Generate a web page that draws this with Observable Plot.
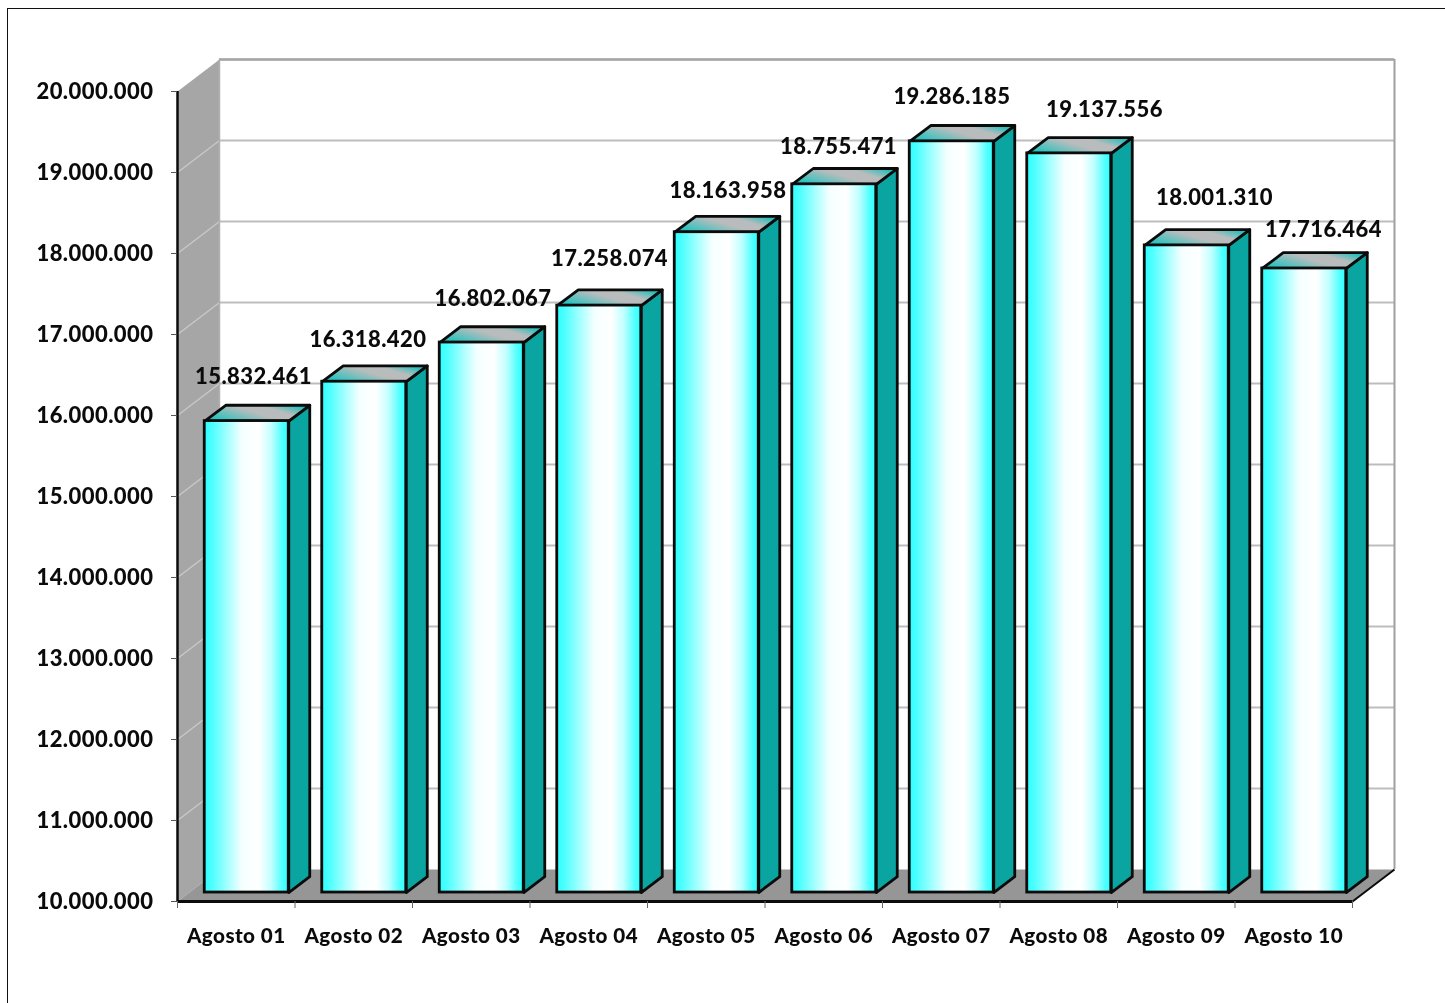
<!DOCTYPE html>
<html>
<head>
<meta charset="utf-8">
<script src="https://cdn.jsdelivr.net/npm/d3@7"></script>
<script src="https://cdn.jsdelivr.net/npm/@observablehq/plot@0.6"></script>
<style>
html,body{margin:0;padding:0;background:#fff;overflow:hidden}
#page{position:absolute;left:0;top:0;width:1445px;height:1003px}
#edge{position:absolute;left:7px;top:8px;right:0;bottom:0;border-left:1.5px solid #111;border-top:1.5px solid #111;pointer-events:none}
svg{filter:blur(0.4px)}
svg text{font-weight:900;fill:#0b0b0b;letter-spacing:0.45px}
</style>
</head>
<body>
<div id="page"><div id="edge"></div></div>
<script>
const categories = ["Agosto 01","Agosto 02","Agosto 03","Agosto 04","Agosto 05","Agosto 06","Agosto 07","Agosto 08","Agosto 09","Agosto 10"];
const values = [15832461,16318420,16802067,17258074,18163958,18755471,19286185,19137556,18001310,17716464];
const yTicks = [10000000,11000000,12000000,13000000,14000000,15000000,16000000,17000000,18000000,19000000,20000000];

// Label nudges, in category units and in value units
const labelShiftX = [0.147,0.121,0.185,0.177,0.185,0.126,0.091,0.389,0.326,0.253];
const labelShiftY = [645000,615000,635000,670000,610000,555000,645000,630000,685000,580000];

// The oblique projection, expressed in scale units
const Y0 = 10000000, Y1 = 20000000, N = categories.length;
const wallX = 0.3574, wallY = 395000;      // full depth of the chart box
const barOffX = 0.0894, barOffY = 98800;   // bars stand part-way into the box
const barDepthX = 0.1787, barDepthY = 195000;
const barW = 0.7149;

const fmt = d3.formatLocale({decimal:",",thousands:".",grouping:[3],currency:["",""]}).format(",");

const poly = (name, pts) => pts.map(([x,y]) => ({name,x,y}));
const left = i => i + 0.5 - barW/2 + barOffX;
const right = i => left(i) + barW;
const base = Y0 + barOffY + 12000;
const top_ = v => v + barOffY;

const sides = values.flatMap((v,i) => poly("s"+i,[
  [right(i),base],[right(i)+barDepthX,base+barDepthY],
  [right(i)+barDepthX,top_(v)+barDepthY],[right(i),top_(v)]]));
const tops = values.flatMap((v,i) => poly("t"+i,[
  [left(i),top_(v)],[right(i),top_(v)],
  [right(i)+barDepthX,top_(v)+barDepthY],[left(i)+barDepthX,top_(v)+barDepthY]]));
const closedLine = (data, o) => Plot.line(data,{x:"x",y:"y",z:"name",curve:"linear-closed",...o});

const defs = () => {
  const d = d3.create("svg:defs");
  const grad = (id, attrs, stops) => {
    const g = d.append("linearGradient").attr("id",id);
    for (const k in attrs) g.attr(k,attrs[k]);
    stops.forEach(([o,c]) => g.append("stop").attr("offset",o).attr("stop-color",c));
  };
  grad("frontFace",{x1:0,x2:1,y1:0,y2:0},[[0,"#2bffff"],[0.1,"#50ffff"],[0.3,"#b0ffff"],[0.45,"#f5ffff"],[0.65,"#ffffff"],[0.8,"#c0ffff"],[0.93,"#50ffff"],[1,"#2bffff"]]);
  grad("topFace",{x1:0,x2:1,y1:0.75,y2:0.25},[[0,"#1cc4c0"],[0.5,"#b9bcbc"],[0.72,"#b8bcbc"],[1,"#1cc0bc"]]);
  return d.node();
};

const chart = Plot.plot({
  width:1445, height:1003,
  marginLeft:177, marginRight:51, marginTop:59, marginBottom:102,
  style:{fontFamily:"Lato, sans-serif",background:"transparent"},
  x:{type:"linear",domain:[0,N+wallX],axis:null},
  y:{type:"linear",domain:[Y0,Y1+wallY],axis:null},
  marks:[
    defs,
    // left wall and floor
    closedLine(poly("wall",[[0,Y0],[wallX,Y0+wallY],[wallX,Y1+wallY],[0,Y1]]),{fill:"#a6a6a6",stroke:"none"}),
    closedLine(poly("floor",[[0,Y0],[N,Y0],[N+wallX,Y0+wallY],[wallX,Y0+wallY]]),{fill:"#969696",stroke:"none"}),
    // gridlines on the left wall and the back wall
    Plot.link(yTicks.slice(1,-1),{x1:0,x2:wallX,y1:d=>d,y2:d=>d+wallY,stroke:"#c8c8c8",strokeWidth:1.5}),
    Plot.link(yTicks.slice(1),{x1:wallX,x2:N+wallX,y1:d=>d+wallY,y2:d=>d+wallY,stroke:"#bdbdbd",strokeWidth:2}),
    Plot.ruleX([wallX],{y1:Y0+wallY,y2:Y1+wallY,stroke:"#b0b0b0",strokeWidth:1.5}),
    Plot.ruleX([N+wallX],{y1:Y0+wallY,y2:Y1+wallY,stroke:"#a0a0a0",strokeWidth:2}),
    Plot.ruleY([Y1+wallY],{x1:wallX,x2:N+wallX,stroke:"#a6a6a6",strokeWidth:2.5}),
    // bars
    closedLine(sides,{fill:"#0aa5a1",stroke:"#0b0b0b",strokeWidth:2.8,strokeLinejoin:"round"}),
    closedLine(tops,{fill:"url(#topFace)",stroke:"#0b0b0b",strokeWidth:2.8,strokeLinejoin:"round"}),
    Plot.rect(values,{x1:(v,i)=>left(i),x2:(v,i)=>right(i),y1:base,y2:v=>top_(v),fill:"url(#frontFace)",stroke:"#0b0b0b",strokeWidth:2.8}),
    // axes
    Plot.ruleX([0],{y1:Y0,y2:Y1,stroke:"#0b0b0b",strokeWidth:2.5}),
    Plot.ruleY([Y0],{x1:0,x2:N,stroke:"#0b0b0b",strokeWidth:3}),
    Plot.link([0],{x1:N,x2:N+wallX,y1:Y0,y2:Y0+wallY,stroke:"#0b0b0b",strokeWidth:2}),
    Plot.axisY({ticks:yTicks,tickSize:6,tickFormat:()=>"",stroke:"#555",anchor:"left",label:null}),
    Plot.axisY({ticks:yTicks,tickSize:0,tickPadding:24,tickFormat:fmt,fontSize:22,anchor:"left",label:null,dy:0.5}),
    Plot.axisX({ticks:d3.range(N+1),tickSize:7,tickFormat:()=>"",stroke:"#666",anchor:"bottom",label:null}),
    Plot.text(categories,{x:(d,i)=>i+0.5,y:Y0,dy:35,text:d=>d,fontSize:20.6,fontWeight:900,lineAnchor:"middle"}),
    Plot.text(values,{x:(v,i)=>i+0.5+labelShiftX[i],y:(v,i)=>v+labelShiftY[i],text:fmt,fontSize:22,fontWeight:900,lineAnchor:"middle"})
  ]
});
document.getElementById("page").appendChild(chart);
</script>
</body>
</html>
